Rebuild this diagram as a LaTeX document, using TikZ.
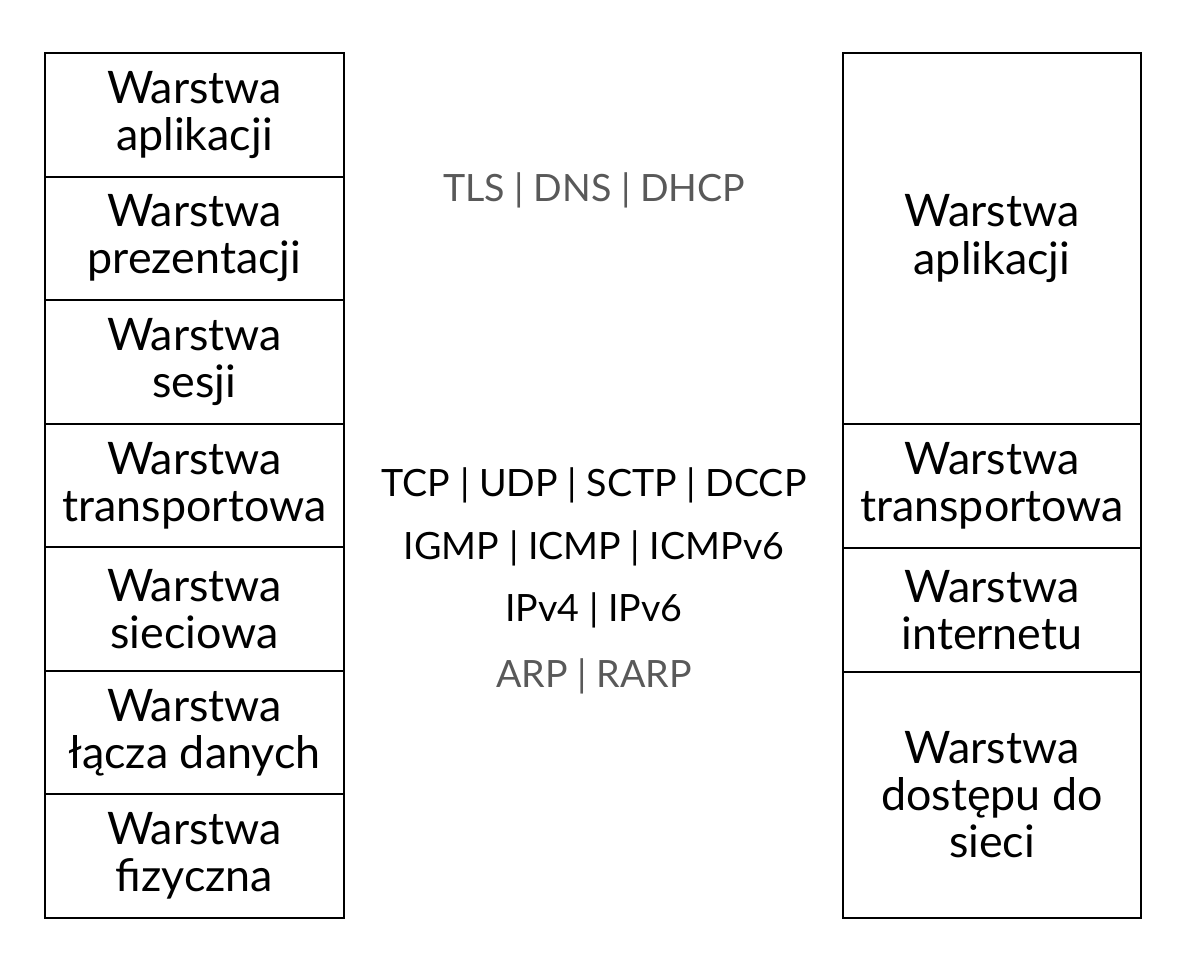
\documentclass[tikz,border=0pt]{standalone}
\usepackage{fontspec}
\setmainfont{Lato}
\usepackage{tikz}

\begin{document}
\begin{tikzpicture}[x=0.02cm,y=-0.02cm,
  layer/.style={draw,line width=1pt,minimum width=5.97cm,align=center,inner sep=0pt,font=\fontsize{25.5}{26.8}\selectfont},
  proto/.style={font=\fontsize{21.4}{24}\selectfont},
  dim/.style={proto,text=black!65}
]
\useasboundingbox (0,0) rectangle (1186,973);

% model OSI
\node[layer,minimum height=2.471cm] (osi7) at (194.5,114.8) {Warstwa\\aplikacji};
\node[layer,minimum height=2.471cm] (osi6) at (194.5,238.4) {Warstwa\\prezentacji};
\node[layer,minimum height=2.471cm] (osi5) at (194.5,361.9) {Warstwa\\sesji};
\node[layer,minimum height=2.471cm] (osi4) at (194.5,485.5) {Warstwa\\transportowa};
\node[layer,minimum height=2.471cm] (osi3) at (194.5,609.1) {Warstwa\\sieciowa};
\node[layer,minimum height=2.471cm] (osi2) at (194.5,732.6) {Warstwa\\łącza danych};
\node[layer,minimum height=2.471cm] (osi1) at (194.5,856.2) {Warstwa\\fizyczna};

% model TCP/IP
\node[layer,minimum height=7.42cm] (tcp4) at (992,238.5) {Warstwa\\aplikacji};
\node[layer,minimum height=2.48cm] (tcp3) at (992,486) {Warstwa\\transportowa};
\node[layer,minimum height=2.48cm] (tcp2) at (992,610) {Warstwa\\internetu};
\node[layer,minimum height=4.92cm] (tcp1) at (992,795) {Warstwa\\dostępu do\\sieci};

% protokoly
\node[dim] (app) at (594,190) {TLS | DNS | DHCP};
\node[proto] (trans) at (594,485) {TCP | UDP | SCTP | DCCP};
\node[proto] (icmp) at (594,548) {IGMP | ICMP | ICMPv6};
\node[proto] (ip) at (594,610) {IPv4 | IPv6};
\node[dim] (arp) at (594,676) {ARP | RARP};
\end{tikzpicture}
\end{document}
